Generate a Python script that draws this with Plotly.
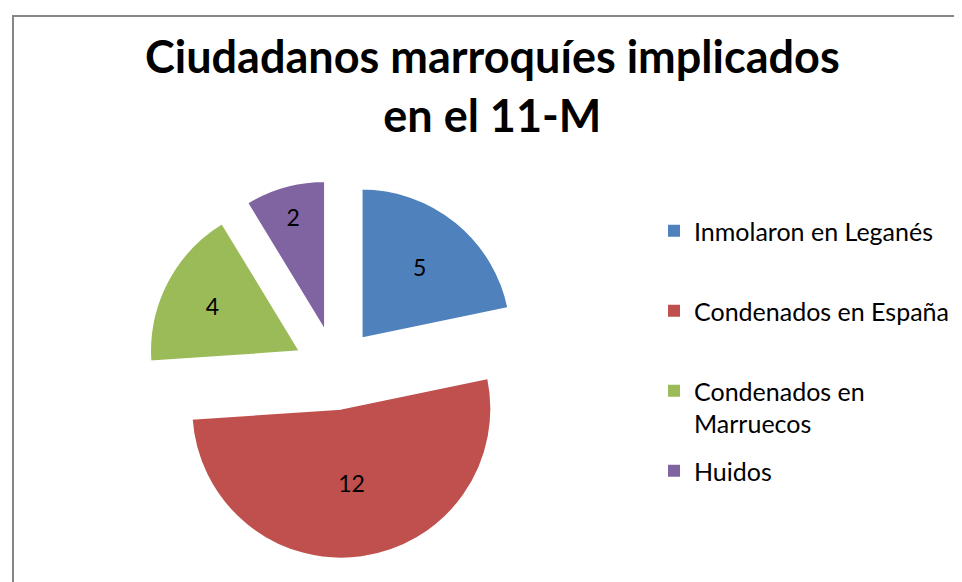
import plotly.graph_objects as go

# Data
categories = ["Inmolaron en Leganés", "Condenados en España", "Condenados en Marruecos", "Huidos"]
values = [5, 12, 4, 2]
colors = ["#4F81BD", "#C0504D", "#9BBB59", "#8064A2"]
pulls = [0.27, 0.26, 0.27, 0.27]

# Legend entries as wrapped in the original, and the legend slot for each
legend_text = ["Inmolaron en Leganés", "Condenados en España", "Condenados en<br>Marruecos", "Huidos"]
legend_ids = ["legend", "legend2", "legend3", "legend4"]
legend_tops = [200, 280, 360, 440]  # pixel tops of each legend entry box

fig = go.Figure()

fig.add_trace(
    go.Pie(
        labels=categories,
        values=values,
        sort=False,
        direction="clockwise",
        rotation=0,
        pull=pulls,
        marker=dict(colors=colors, line=dict(color="white", width=2)),
        textinfo="value",
        textposition="inside",
        insidetextorientation="horizontal",
        textfont=dict(family="Lato", size=23, color="black"),
        domain=dict(x=[137.5 / 962, 518.5 / 962], y=[29.5 / 582, 410.5 / 582]),
        hoverinfo="skip",
        showlegend=False,
    )
)

# Legend entries (one legend per entry to reproduce the original spacing)
for name, col, lid in zip(legend_text, colors, legend_ids):
    fig.add_trace(
        go.Scatter(
            x=[None],
            y=[None],
            mode="markers",
            marker=dict(symbol="square", size=12, color=col),
            name=name,
            legend=lid,
            hoverinfo="skip",
        )
    )

legend_common = dict(
    x=646 / 962,
    xanchor="left",
    yanchor="top",
    valign="top",
    font=dict(family="Lato", size=25, color="black"),
    bgcolor="rgba(0,0,0,0)",
)

fig.update_layout(
    width=962,
    height=582,
    margin=dict(l=0, r=0, t=0, b=0),
    paper_bgcolor="white",
    plot_bgcolor="white",
    xaxis=dict(visible=False),
    yaxis=dict(visible=False),
    annotations=[
        dict(
            text="<b>Ciudadanos marroquíes implicados<br>en el 11-M</b>",
            x=0.504,
            xref="paper",
            xanchor="center",
            y=1 - 78 / 582,
            yref="paper",
            yanchor="middle",
            showarrow=False,
            font=dict(family="Lato", size=45, color="black"),
        )
    ],
    shapes=[
        dict(
            type="rect",
            xref="paper",
            yref="paper",
            x0=5 / 962,
            x1=1.02,
            y0=-0.02,
            y1=1 - 8 / 582,
            line=dict(color="#868686", width=2),
        )
    ],
)

layout_legends = {}
for lid, top in zip(legend_ids, legend_tops):
    layout_legends[lid] = dict(legend_common, y=1 - top / 582)
fig.update_layout(**layout_legends)

fig.write_html("out.html")
